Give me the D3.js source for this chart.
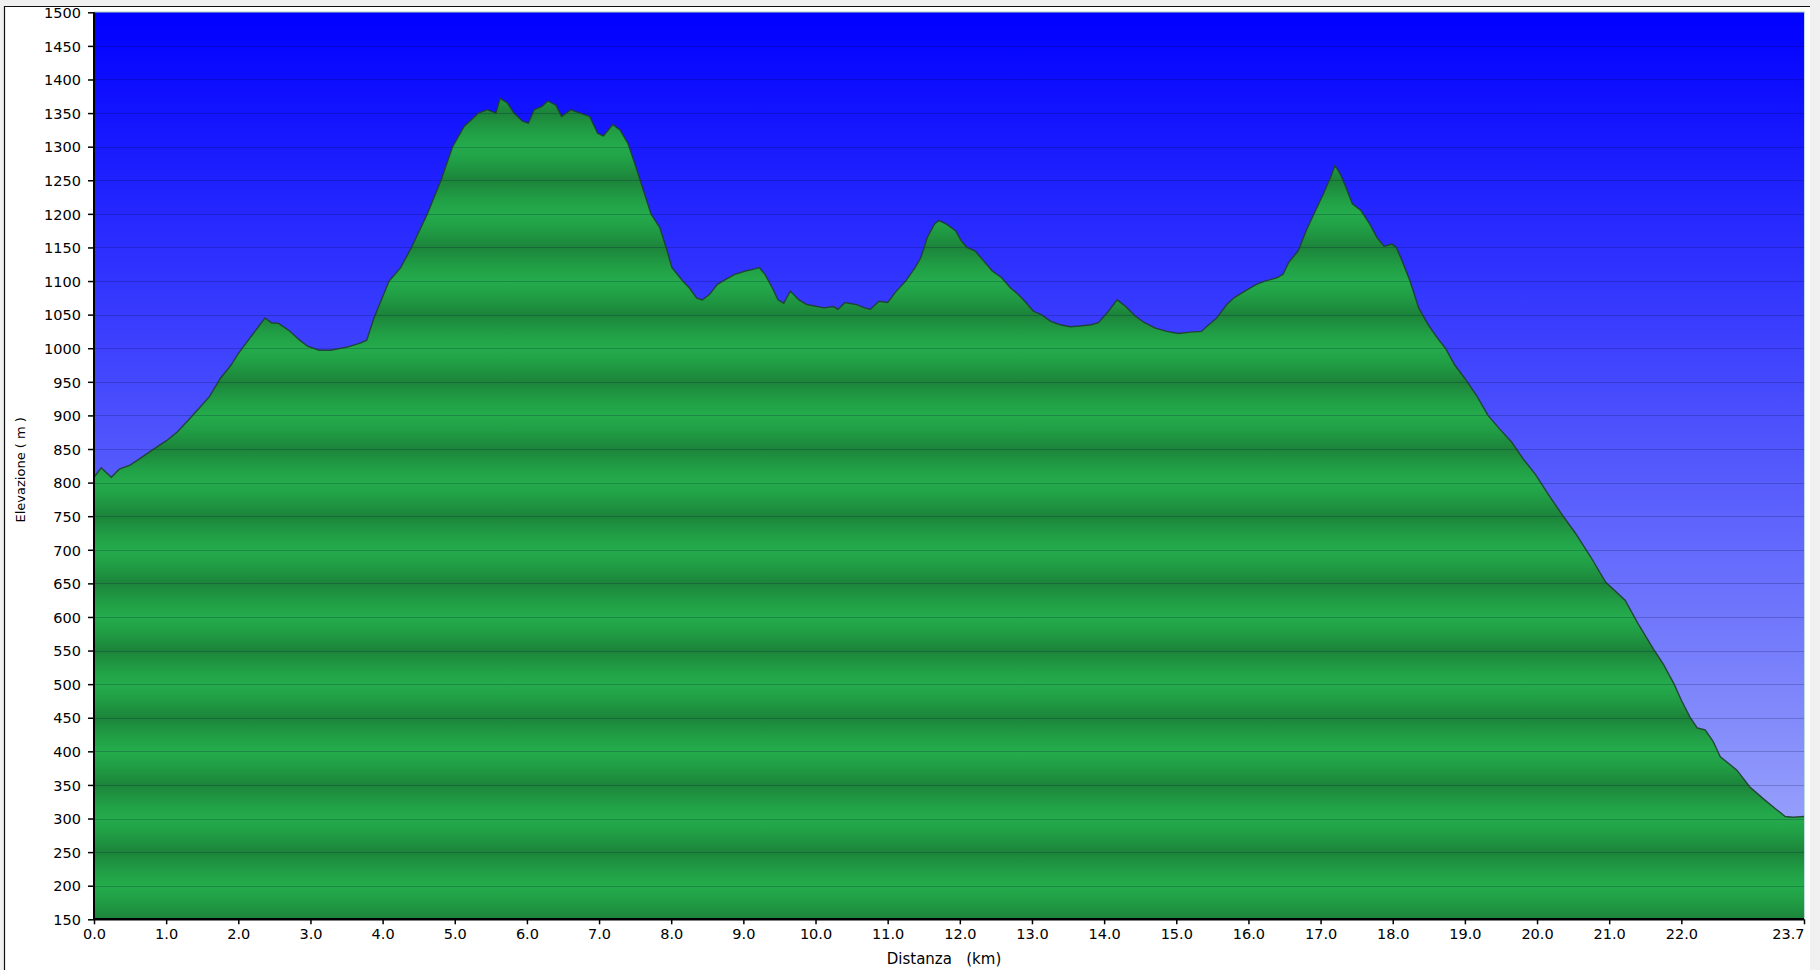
<!DOCTYPE html>
<html>
<head>
<meta charset="utf-8">
<script src="https://cdn.jsdelivr.net/npm/d3@7"></script>
<style>
  body { margin: 0; background: #f0f0f0; }
  text { font-family: "DejaVu Sans", Verdana, sans-serif; fill: #000; }
</style>
</head>
<body>
<svg id="chart"></svg>
<script>
// profile: distance (km) / elevation (m)
var distanceKm = [0.00, 0.10, 0.24, 0.35, 0.50, 0.64, 0.80, 1.00, 1.15, 1.30, 1.45, 1.60, 1.75, 1.90, 2.00, 2.16,
  2.37, 2.46, 2.56, 2.72, 2.85, 2.96, 3.12, 3.28, 3.52, 3.70, 3.78, 3.88, 4.09, 4.25, 4.40, 4.62, 4.81, 4.97,
  5.13, 5.33, 5.45, 5.57, 5.63, 5.73, 5.82, 5.94, 6.02, 6.10, 6.21, 6.29, 6.40, 6.48, 6.61, 6.74, 6.87, 6.98,
  7.06, 7.19, 7.29, 7.40, 7.51, 7.63, 7.72, 7.84, 7.93, 8.01, 8.16, 8.25, 8.35, 8.43, 8.53, 8.64, 8.75, 8.88,
  9.03, 9.16, 9.22, 9.30, 9.40, 9.48, 9.56, 9.65, 9.77, 9.88, 10.12, 10.25, 10.31, 10.41, 10.57, 10.68, 10.76,
  10.88, 11.00, 11.12, 11.25, 11.38, 11.46, 11.55, 11.65, 11.71, 11.81, 11.94, 12.02, 12.10, 12.21, 12.33,
  12.45, 12.58, 12.70, 12.81, 12.90, 13.02, 13.13, 13.26, 13.39, 13.53, 13.66, 13.82, 13.92, 14.06, 14.18,
  14.30, 14.43, 14.56, 14.71, 14.87, 15.03, 15.19, 15.35, 15.43, 15.56, 15.70, 15.80, 15.95, 16.11, 16.23,
  16.40, 16.48, 16.56, 16.69, 16.80, 16.93, 17.04, 17.14, 17.20, 17.27, 17.35, 17.44, 17.56, 17.68, 17.78,
  17.88, 17.99, 18.05, 18.13, 18.24, 18.36, 18.49, 18.62, 18.73, 18.86, 19.00, 19.16, 19.32, 19.48, 19.65,
  19.81, 19.98, 20.14, 20.33, 20.53, 20.74, 20.95, 21.22, 21.40, 21.61, 21.75, 21.90, 22.00, 22.12, 22.22,
  22.33, 22.44, 22.54, 22.77, 22.95, 23.13, 23.30, 23.44, 23.55, 23.70];
var elevationM = [808, 822, 808, 820, 826, 836, 848, 862, 875, 892, 910, 928, 955, 975, 992, 1015,
  1045, 1038, 1037, 1025, 1012, 1003, 997, 997, 1002, 1008, 1012, 1045, 1100, 1120, 1150, 1200, 1250, 1300,
  1330, 1350, 1355, 1350, 1372, 1365, 1350, 1338, 1335, 1355, 1360, 1368, 1362, 1345, 1355, 1350, 1345, 1320,
  1316, 1333, 1325, 1305, 1270, 1230, 1200, 1180, 1150, 1120, 1100, 1090, 1075, 1072, 1080, 1095, 1102, 1110,
  1115, 1118, 1120, 1110, 1090, 1072, 1067, 1085, 1072, 1065, 1060, 1062, 1058, 1068, 1065, 1060, 1058,
  1070, 1068, 1085, 1100, 1120, 1135, 1165, 1185, 1190, 1185, 1175, 1160, 1150, 1145, 1130,
  1115, 1105, 1090, 1080, 1070, 1055, 1050, 1040, 1035, 1032, 1033, 1035, 1038, 1055, 1072,
  1062, 1048, 1038, 1030, 1025, 1022, 1024, 1025, 1033, 1045, 1065, 1075, 1085, 1095, 1100,
  1105, 1110, 1128, 1145, 1175, 1205, 1230, 1255, 1272, 1260, 1240, 1215, 1205, 1185, 1165,
  1152, 1155, 1150, 1130, 1100, 1060, 1035, 1015, 1000, 975, 955, 930, 900, 880, 860,
  835, 812, 785, 755, 725, 690, 652, 625, 590, 553, 530, 500, 476, 451, 435,
  432, 415, 392, 372, 347, 330, 315, 303, 302, 303];

var xTickValues = [0, 1, 2, 3, 4, 5, 6, 7, 8, 9, 10, 11, 12, 13, 14, 15, 16, 17, 18, 19, 20, 21, 22, 23.7];
var yTickValues = [150, 200, 250, 300, 350, 400, 450, 500, 550, 600, 650, 700, 750, 800, 850, 900, 950,
  1000, 1050, 1100, 1150, 1200, 1250, 1300, 1350, 1400, 1450, 1500];

var width = 1820, height = 970;
var margin = { top: 12.3, right: 16, bottom: 50.7, left: 94 };

var svg = d3.select("#chart").attr("width", width).attr("height", height);

// white panel with a dark top/left edge
svg.append("rect").attr("x", 4).attr("y", 6).attr("width", 1806).attr("height", height - 6).attr("fill", "#fff");
svg.append("path").attr("d", "M4.5," + height + "V6.5H1810").attr("fill", "none").attr("stroke", "#111").attr("stroke-width", 1.2);

var x = d3.scaleLinear().domain([0, 23.7]).range([margin.left, width - margin.right]);
var y = d3.scaleLinear().domain([150, 1500]).range([height - margin.bottom, margin.top]);

var defs = svg.append("defs");
var sky = defs.append("linearGradient").attr("id", "sky")
  .attr("gradientUnits", "userSpaceOnUse")
  .attr("x1", 0).attr("x2", 0).attr("y1", y(1500)).attr("y2", y(150));
sky.append("stop").attr("offset", 0).attr("stop-color", "#0000ff");
sky.append("stop").attr("offset", 1).attr("stop-color", "#a8b2fa");

// green bands repeat every 100 m: dark on the x50 lines, light on the x00 lines
var band = defs.append("linearGradient").attr("id", "band")
  .attr("gradientUnits", "userSpaceOnUse")
  .attr("spreadMethod", "repeat")
  .attr("x1", 0).attr("x2", 0).attr("y1", y(450)).attr("y2", y(350));
band.append("stop").attr("offset", 0).attr("stop-color", "#1c843a");
band.append("stop").attr("offset", 0.3).attr("stop-color", "#21a046");
band.append("stop").attr("offset", 0.5).attr("stop-color", "#24ab4c");
band.append("stop").attr("offset", 0.7).attr("stop-color", "#21a046");
band.append("stop").attr("offset", 1).attr("stop-color", "#1c843a");

svg.append("rect")
  .attr("x", x(0)).attr("y", y(1500))
  .attr("width", x(23.7) - x(0)).attr("height", y(150) - y(1500))
  .attr("fill", "url(#sky)");

var profile = distanceKm.map(function (d, i) { return { km: d, ele: elevationM[i] }; });

var area = d3.area()
  .x(function (d) { return x(d.km); })
  .y0(y(150))
  .y1(function (d) { return y(d.ele); });

var line = d3.line()
  .x(function (d) { return x(d.km); })
  .y(function (d) { return y(d.ele); });

svg.append("path").datum(profile).attr("d", area).attr("fill", "url(#band)");

// grid
svg.append("g")
  .selectAll("line")
  .data(yTickValues.slice(1))
  .join("line")
  .attr("x1", x(0)).attr("x2", x(23.7))
  .attr("y1", function (d) { return Math.round(y(d)) + 0.5; })
  .attr("y2", function (d) { return Math.round(y(d)) + 0.5; })
  .attr("stroke", "#000030")
  .attr("stroke-opacity", 0.2);

svg.append("path").datum(profile).attr("d", line)
  .attr("fill", "none").attr("stroke", "#1f3f2b").attr("stroke-width", 1.4).attr("stroke-opacity", 0.9);

// thin light frame on top and right of the plot
svg.append("path")
  .attr("d", "M" + x(0) + "," + (y(1500) - 0.5) + "H" + (x(23.7) + 0.5) + "V" + y(150))
  .attr("fill", "none").attr("stroke", "#b9dcd8").attr("stroke-width", 1);

// axes
var yAxis = d3.axisLeft(y).tickValues(yTickValues).tickSize(6).tickPadding(7).tickFormat(d3.format("d"));
var xAxis = d3.axisBottom(x).tickValues(xTickValues).tickSize(5).tickPadding(4).tickFormat(d3.format(".1f"));

var gy = svg.append("g").attr("transform", "translate(" + x(0) + ",0)").call(yAxis);
gy.select(".domain").attr("stroke", "#000").attr("stroke-width", 2).attr("d", "M0," + y(1500) + "V" + y(150));
gy.selectAll(".tick line").attr("stroke", "#000").attr("stroke-width", 1.5);
gy.selectAll(".tick text").style("font-size", "14.5px").attr("dy", "0.36em");

var gx = svg.append("g").attr("transform", "translate(0," + y(150) + ")").call(xAxis);
gx.select(".domain").attr("stroke", "#000").attr("stroke-width", 2.5).attr("d", "M" + x(0) + ",0H" + x(23.7));
gx.selectAll(".tick line").attr("stroke", "#000").attr("stroke-width", 1.5);
gx.selectAll(".tick text").style("font-size", "14.5px");
// last label sits flush left of its tick
gx.selectAll(".tick text").filter(function (d) { return d === 23.7; })
  .attr("text-anchor", "end").attr("x", 0);

svg.append("text")
  .attr("x", (x(0) + x(23.7)) / 2 - 5)
  .attr("y", 964)
  .attr("text-anchor", "middle")
  .style("font-size", "15px")
  .style("white-space", "pre")
  .text("Distanza   (km)");

svg.append("text")
  .attr("transform", "translate(25," + ((y(1500) + y(150)) / 2 + 4) + ") rotate(-90)")
  .attr("text-anchor", "middle")
  .style("font-size", "13px")
  .style("white-space", "pre")
  .text("Elevazione ( m )");
</script>
</body>
</html>
